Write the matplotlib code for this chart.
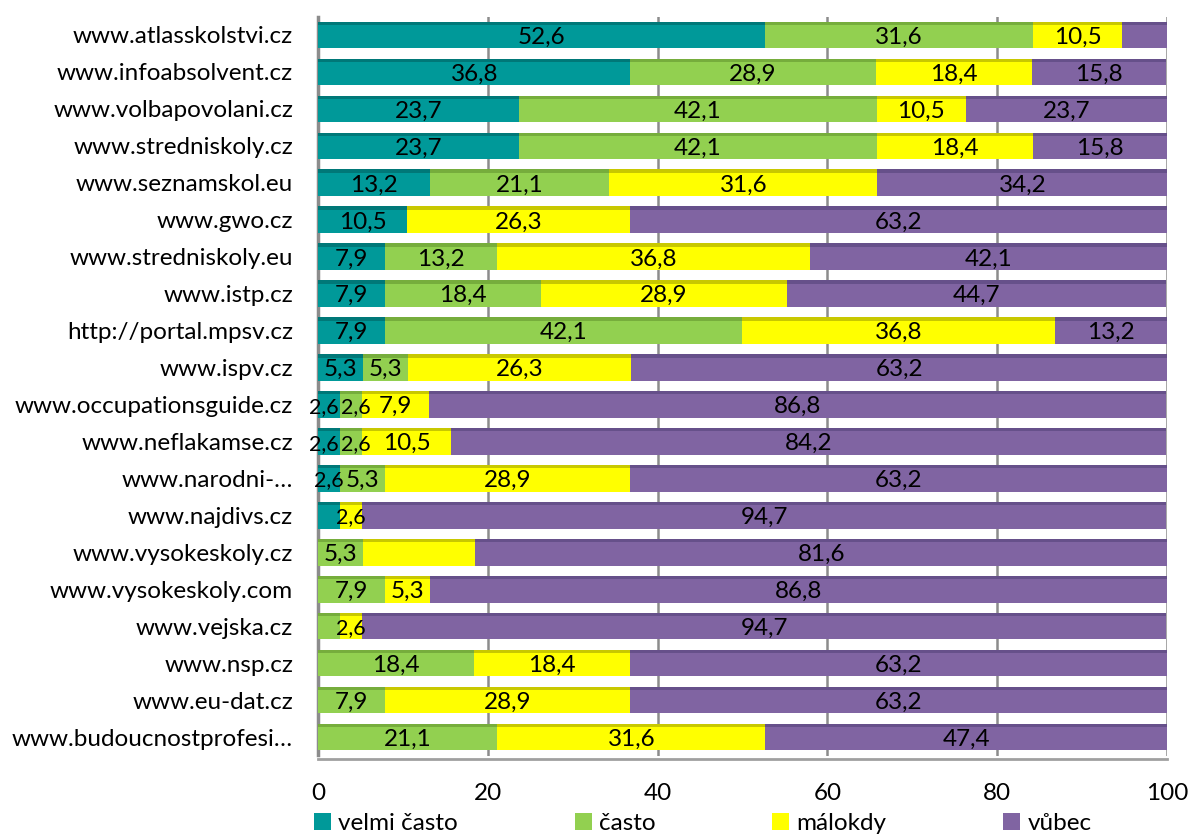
import matplotlib
matplotlib.use("Agg")
import matplotlib.pyplot as plt
from matplotlib.patches import Patch
import numpy as np

plt.rcParams['font.family'] = ['Lato', 'DejaVu Sans']

categories = [
    "www.atlasskolstvi.cz", "www.infoabsolvent.cz", "www.volbapovolani.cz",
    "www.stredniskoly.cz", "www.seznamskol.eu", "www.gwo.cz",
    "www.stredniskoly.eu", "www.istp.cz", "http://portal.mpsv.cz",
    "www.ispv.cz", "www.occupationsguide.cz", "www.neflakamse.cz",
    "www.narodni-…", "www.najdivs.cz", "www.vysokeskoly.cz",
    "www.vysokeskoly.com", "www.vejska.cz", "www.nsp.cz", "www.eu-dat.cz",
    "www.budoucnostprofesi…",
]
series_names = ["velmi často", "často", "málokdy", "vůbec"]
velmi_casto = [52.6, 36.8, 23.7, 23.7, 13.2, 10.5, 7.9, 7.9, 7.9, 5.3, 2.6, 2.6, 2.6, 2.6, 0, 0, 0, 0, 0, 0]
casto       = [31.6, 28.9, 42.1, 42.1, 21.1, 0, 13.2, 18.4, 42.1, 5.3, 2.6, 2.6, 5.3, 0, 5.3, 7.9, 2.6, 18.4, 7.9, 21.1]
malokdy     = [10.5, 18.4, 10.5, 18.4, 31.6, 26.3, 36.8, 28.9, 36.8, 26.3, 7.9, 10.5, 28.9, 2.6, 13.2, 5.3, 2.6, 18.4, 28.9, 31.6]
vubec       = [5.3, 15.8, 23.7, 15.8, 34.2, 63.2, 42.1, 44.7, 13.2, 63.2, 86.8, 84.2, 63.2, 94.7, 81.6, 86.8, 94.7, 63.2, 63.2, 47.4]
# labels not displayed in the original (category index per series)
hidden_labels = {0: [13], 1: [16], 2: [14], 3: [0]}

colors = ["#009999", "#92D050", "#FFFF00", "#8064A2"]
top_colors = ["#007878", "#76AD3C", "#C8C800", "#66508A"]

FS = 17.5

fig = plt.figure(figsize=(11.89, 8.35), dpi=100)
ax = fig.add_axes([318/1189, 1-755.5/835, (1167-318)/1189, 739/835])
ax.spines["bottom"].set_position(("data", len(categories) - 0.4))

y = np.arange(len(categories))
data = [velmi_casto, casto, malokdy, vubec]
left = np.zeros(len(categories))
bh = 0.72
for si, vals in enumerate(data):
    vals = np.array(vals, dtype=float)
    ax.barh(y, vals, left=left, height=bh, color=colors[si], zorder=3, linewidth=0)
    ax.barh(y - bh/2 + 0.045, vals, left=left, height=0.09, color=top_colors[si], zorder=4, linewidth=0)
    for i, v in enumerate(vals):
        if v > 0 and i not in hidden_labels.get(si, []):
            xc = left[i] + v/2
            fs = FS
            if v < 4:
                fs = FS - 2
                # tiny neighbouring segments: nudge labels apart as in the original
                if si == 0 and casto[i] > 0 and casto[i] < 4:
                    xc -= 0.6
                elif si == 1 and velmi_casto[i] > 0 and v < 4:
                    xc += 0.6
            ax.text(xc, y[i] + 0.06, f"{v:.1f}".replace(".", ","),
                    ha="center", va="center", fontsize=fs, color="black", zorder=5)
    left += vals

ax.set_xlim(0, 100)
ax.set_ylim(len(categories) - 0.5, -0.5)
ax.set_yticks(y)
ax.set_yticklabels(categories)
ax.set_xticks([0, 20, 40, 60, 80, 100])
ax.set_xticklabels(["0", "20", "40", "60", "80", "100"])
ax.tick_params(axis="both", length=0, labelsize=FS)
ax.tick_params(axis="x", pad=17)
ax.tick_params(axis="y", pad=18)
ax.grid(axis="x", color="#8C8C8C", linewidth=1.8, zorder=1)
for s in ["top", "right"]:
    ax.spines[s].set_visible(False)
ax.spines["left"].set_color("#8C8C8C")
ax.spines["left"].set_linewidth(2.5)
ax.spines["bottom"].set_color("#A0A0A0")
ax.spines["bottom"].set_linewidth(2)

handles = [Patch(facecolor=c, edgecolor="none") for c in colors]
fig.legend(handles, series_names, loc="center", bbox_to_anchor=(0.591, 0.014),
           ncol=4, frameon=False, fontsize=FS, handlelength=0.7, handleheight=0.7,
           handletextpad=0.3, columnspacing=4.8, borderpad=0)

fig.savefig("out.png", dpi=100)
